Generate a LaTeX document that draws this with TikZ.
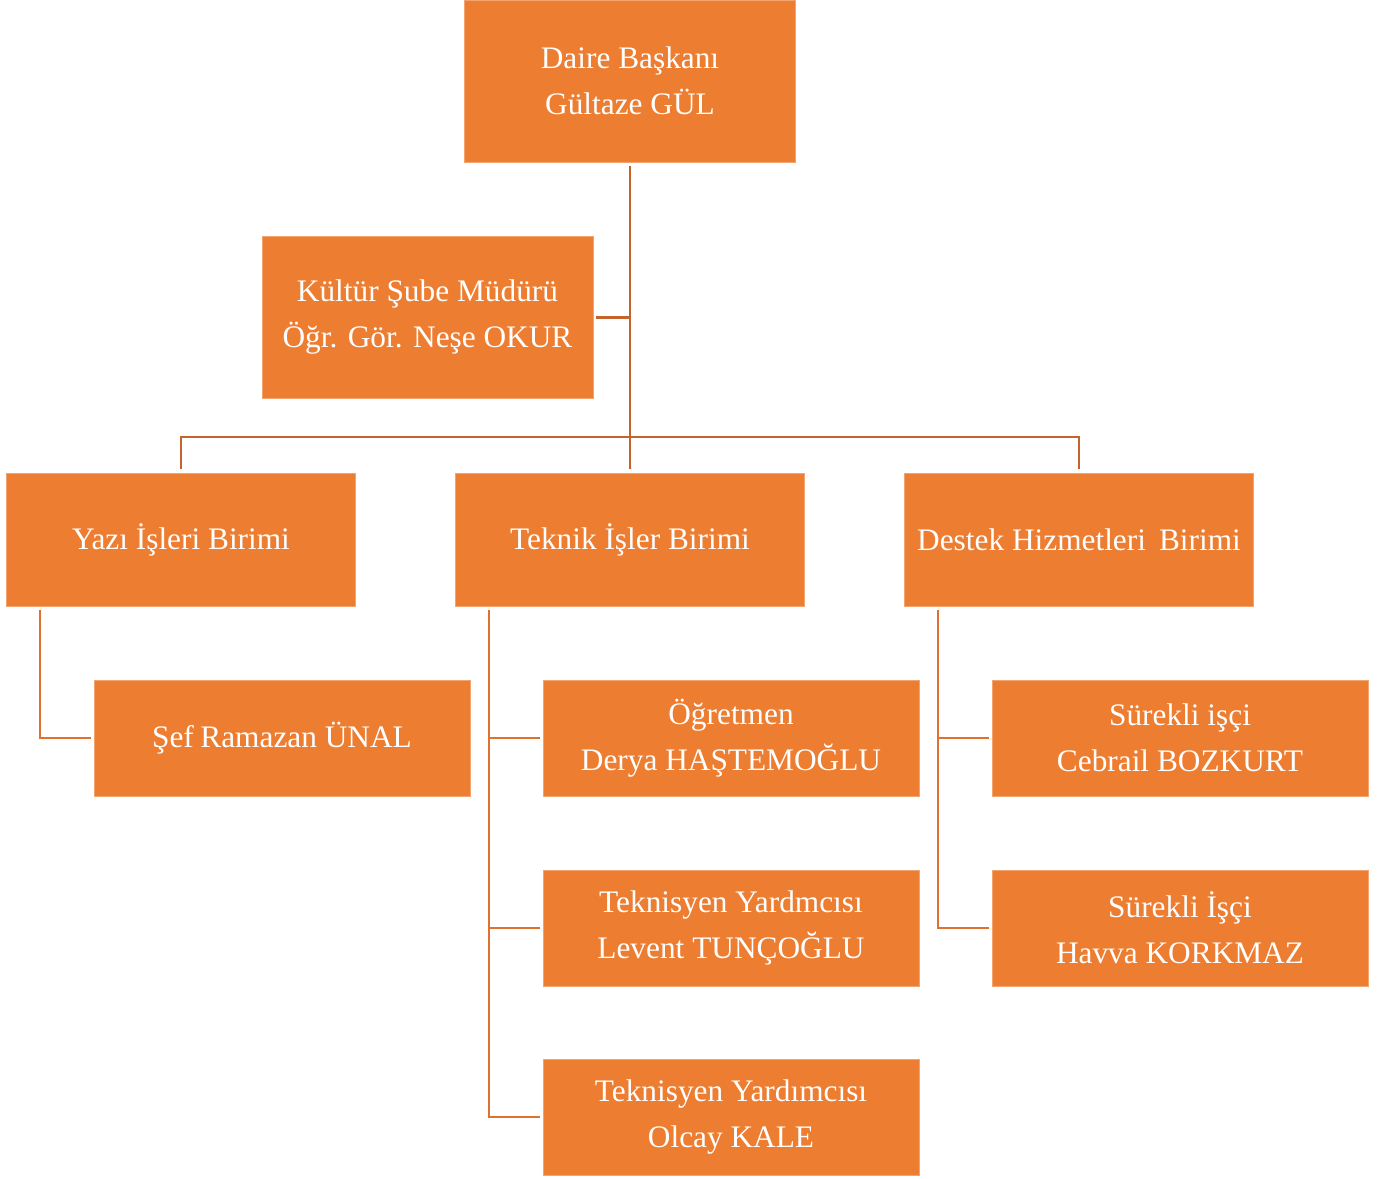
\documentclass[tikz,border=0pt]{standalone}
\usepackage{fontspec}
\setmainfont{Liberation Serif}
\definecolor{boxor}{HTML}{ED7D31}
\definecolor{lineup}{HTML}{C4632B}
\definecolor{linelow}{HTML}{DF712F}
\begin{document}
\begin{tikzpicture}[x=0.75pt,y=-0.75pt,
  obox/.style={fill=boxor, draw=boxor!70!white, line width=0.6pt, text=white, align=center,
    font=\fontsize{23.5}{34.5}\selectfont, inner sep=0pt},
  bigbox/.style={obox, minimum width=248.25pt, minimum height=121.5pt},
  midbox/.style={obox, minimum width=261.75pt, minimum height=99.75pt},
  smallbox/.style={obox, minimum width=282pt, minimum height=87pt},
  upline/.style={draw=lineup, line width=2.2pt},
  lowline/.style={draw=linelow, line width=2.2pt}]
\useasboundingbox (0,0) rectangle (1387,1178);
% boxes
\node[bigbox] (top) at (630,81) {Daire Başkanı\\Gültaze GÜL};
\node[bigbox] (kultur) at (427.5,317.5) {Kültür Şube Müdürü\\Öğr. Gör. Neşe OKUR};
\node[midbox] (yazi) at (181,539.5) {Yazı İşleri Birimi};
\node[midbox] (teknik) at (630,539.5) {Teknik İşler Birimi};
\node[midbox] (destek) at (1079,539.5) {Destek Hizmetleri\, Birimi};
\node[smallbox] (sef) at (282,738) {Şef\kern-1pt\ Ramazan ÜNAL};
\node[smallbox] (ogr) at (731,738) {Öğretmen\\Derya HAŞTEMOĞLU};
\node[smallbox] (tek1) at (731,928) {Teknisyen Yardmcısı\\Levent TUNÇOĞLU};
\node[smallbox] (tek2) at (731,1117) {Teknisyen Yardımcısı\\Olcay KALE};
\node[smallbox] (sur1) at (1180,738) {Sürekli işçi\\Cebrail BOZKURT};
\node[smallbox] (sur2) at (1180,928) {Sürekli İşçi\\Havva KORKMAZ};
% coordinates
\coordinate (bus) at (630,437);
\coordinate (ybr) at (40,0);
\coordinate (tbr) at (489,0);
\coordinate (dbr) at (938,0);
% upper connectors
\draw[upline] ([yshift=-3pt]top.south) -- ([yshift=2.5pt]teknik.north);
\draw[upline] ([xshift=2pt]kultur.east) -- (kultur.east -| top.south);
\draw[upline] ([yshift=2.5pt]yazi.north) |- (bus) -| ([yshift=2.5pt]destek.north);
% lower connectors
\draw[lowline] ([yshift=-3pt]yazi.south -| ybr) |- ([xshift=-2pt]sef.west);
\draw[lowline] ([yshift=-3pt]teknik.south -| tbr) |- ([xshift=-2pt]tek2.west);
\draw[lowline] (ogr.west -| tbr) -- ([xshift=-2pt]ogr.west);
\draw[lowline] (tek1.west -| tbr) -- ([xshift=-2pt]tek1.west);
\draw[lowline] ([yshift=-3pt]destek.south -| dbr) |- ([xshift=-2pt]sur2.west);
\draw[lowline] (sur1.west -| dbr) -- ([xshift=-2pt]sur1.west);
\end{tikzpicture}
\end{document}
